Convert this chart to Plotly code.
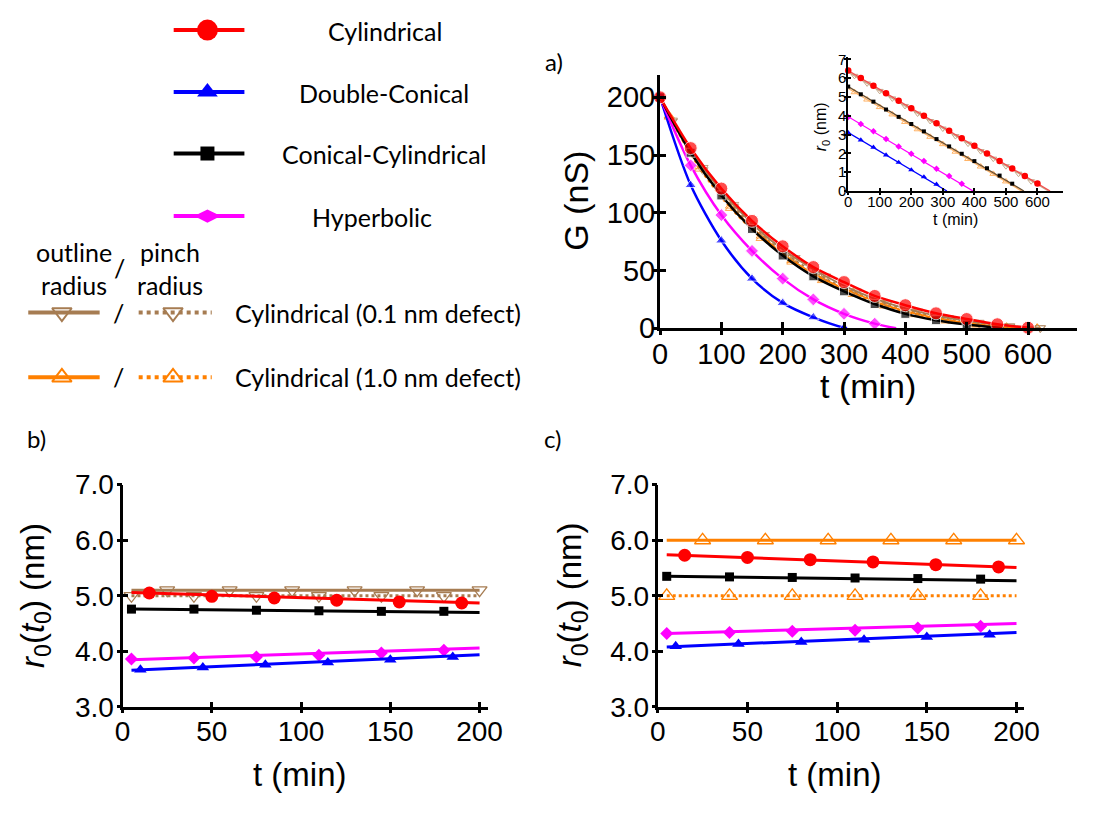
import plotly.graph_objects as go

# ---------------- DATA ----------------
# Panel a: conductance G (nS) vs time (min)
ta_cyl = [0, 50, 100, 150, 200, 250, 300, 350, 400, 450, 500, 550, 600]
G_cyl = [200, 156, 121, 93, 71, 53, 40, 28, 20, 13, 8, 3.5, 0.5]
ta_cc = [0, 50, 100, 150, 200, 250, 300, 350, 400, 450, 500]
G_cc = [200, 152, 115, 86, 63, 45, 32, 21, 12.5, 7, 3.2]
ta_cc_end = 560
ta_hyp = [0, 50, 100, 150, 200, 250, 300, 350]
G_hyp = [200, 141, 98, 67, 43, 25, 12.5, 4]
ta_hyp_end = 385
ta_dc = [0, 50, 100, 150, 200, 250, 300]
G_dc = [200, 124, 76, 43, 22, 9.5, 0.5]
ta_dc_end = 305
ta_d01 = [20, 70, 120, 170, 220, 270, 320, 370, 420, 470, 520, 570, 620]
G_d01_outline = [180, 139, 107, 81, 61, 45, 32, 22, 14.5, 9, 5, 2, 0.3]
G_d01_pinch = [179, 137, 105, 79, 59, 43, 30.5, 21, 13.5, 8, 4, 1.5, 0.2]
ta_d10 = [15, 65, 115, 165, 215, 265, 315, 365, 415, 465, 515, 565, 615]
G_d10_outline = [184, 140, 106, 80, 59, 43, 31, 20.5, 13, 7.5, 3.5, 1, 0]
G_d10_pinch = [183, 138, 104, 78, 57.5, 41.5, 29.5, 19.5, 12, 6.5, 3, 0.7, 0]

# Inset: r0 (nm) vs time (min)
ti_cyl = [0, 40, 80, 120, 160, 200, 240, 280, 320, 360, 400, 440, 480, 520, 560, 600]
ri_cyl = [6.4, 6.0, 5.6, 5.2, 4.8, 4.4, 4.0, 3.6, 3.2, 2.8, 2.4, 2.0, 1.6, 1.2, 0.8, 0.4]
ti_cyl_fit, ri_cyl_fit = [0, 640], [6.4, 0]
ti_cc = [0, 40, 80, 120, 160, 200, 240, 280, 320, 360, 400, 440, 480, 520]
ri_cc = [5.55, 5.14, 4.75, 4.33, 3.94, 3.56, 3.17, 2.76, 2.37, 1.98, 1.59, 1.21, 0.82, 0.39]
ti_cc_fit, ri_cc_fit = [0, 557], [5.55, 0]
ti_hyp = [0, 40, 80, 120, 160, 200, 240, 280, 320, 360]
ri_hyp = [3.93, 3.56, 3.17, 2.76, 2.37, 1.98, 1.59, 1.19, 0.80, 0.39]
ti_hyp_fit, ri_hyp_fit = [0, 396], [3.95, 0]
ti_dc = [0, 40, 80, 120, 160, 200, 240, 280]
ri_dc = [3.1, 2.71, 2.32, 1.91, 1.52, 1.12, 0.75, 0.36]
ti_dc_fit, ri_dc_fit = [0, 313], [3.1, 0]
ti_d01 = [20, 60, 100, 140, 180, 220, 260, 300, 340, 380, 420, 460, 500, 540, 580]
ri_d01 = [6.12, 5.72, 5.32, 4.92, 4.52, 4.12, 3.72, 3.32, 2.92, 2.52, 2.12, 1.72, 1.32, 0.92, 0.52]
ti_d01_fit, ri_d01_fit = [0, 635], [6.32, 0]
ti_d10 = [20, 60, 100, 140, 180, 220, 260, 300, 340, 380, 420, 460, 500]
ri_d10 = [5.25, 4.86, 4.46, 4.07, 3.67, 3.28, 2.88, 2.49, 2.09, 1.70, 1.30, 0.91, 0.51]
ti_d10_fit, ri_d10_fit = [0, 550], [5.45, 0]

# Panel b: r0(t0) (nm) vs t (min)
tb_cyl = [15, 50, 85, 120, 155, 190]
rb_cyl = [5.05, 4.99, 4.96, 4.92, 4.89, 4.87]
rb_cyl_fit = [5.06, 4.87]
tb_cc = [5, 40, 75, 110, 145, 180]
rb_cc = [4.76, 4.76, 4.74, 4.73, 4.72, 4.72]
rb_cc_fit = [4.76, 4.70]
tb_hyp = [5, 40, 75, 110, 145, 180]
rb_hyp = [3.86, 3.88, 3.90, 3.93, 3.97, 4.02]
rb_hyp_fit = [3.85, 4.06]
tb_dc = [10, 45, 80, 115, 150, 185]
rb_dc = [3.67, 3.71, 3.76, 3.80, 3.85, 3.90]
rb_dc_fit = [3.66, 3.94]
tb_d01_outline = [25, 60, 95, 130, 165, 200]
rb_d01_outline = [5.1, 5.1, 5.1, 5.1, 5.1, 5.1]
rb_d01_outline_fit = [5.1, 5.1]
tb_d01_pinch = [5, 40, 75, 110, 145, 180]
rb_d01_pinch = [5.0, 5.0, 5.0, 5.0, 5.0, 5.0]
rb_d01_pinch_fit = [5.0, 5.0]
tb_fit = [5, 200]

# Panel c: r0(t0) (nm) vs t (min)
tc_cyl = [15, 50, 85, 120, 155, 190]
rc_cyl = [5.73, 5.69, 5.65, 5.61, 5.56, 5.52]
rc_cyl_fit = [5.74, 5.51]
tc_cc = [5, 40, 75, 110, 145, 180]
rc_cc = [5.35, 5.34, 5.33, 5.32, 5.31, 5.30]
rc_cc_fit = [5.35, 5.27]
tc_hyp = [5, 40, 75, 110, 145, 180]
rc_hyp = [4.32, 4.34, 4.36, 4.38, 4.42, 4.45]
rc_hyp_fit = [4.32, 4.50]
tc_dc = [10, 45, 80, 115, 150, 185]
rc_dc = [4.09, 4.13, 4.17, 4.21, 4.26, 4.30]
rc_dc_fit = [4.08, 4.34]
tc_d10_outline = [25, 60, 95, 130, 165, 200]
rc_d10_outline = [6.0, 6.0, 6.0, 6.0, 6.0, 6.0]
rc_d10_outline_fit = [6.0, 6.0]
tc_d10_pinch = [5, 40, 75, 110, 145, 180]
rc_d10_pinch = [5.0, 5.0, 5.0, 5.0, 5.0, 5.0]
rc_d10_pinch_fit = [5.0, 5.0]
tc_fit = [5, 200]

# Tick labels
ticks_a_x = [0, 100, 200, 300, 400, 500, 600]
ticks_a_y = [0, 50, 100, 150, 200]
ticks_i_x = [0, 100, 200, 300, 400, 500, 600]
ticks_i_y = [0, 1, 2, 3, 4, 5, 6, 7]
ticks_bc_x = [0, 50, 100, 150, 200]
ticks_bc_y = [3.0, 4.0, 5.0, 6.0, 7.0]

# Legend entries
main_names = ["Cylindrical", "Double-Conical", "Conical-Cylindrical", "Hyperbolic"]
defect_names = ["Cylindrical (0.1 nm defect)", "Cylindrical (1.0 nm defect)"]

# ---------------- STYLE ----------------
W, H = 1096, 813
RED, BLUE, BLACK, MAG = "#ff0000", "#0000ff", "#000000", "#ff00ff"
BROWN, ORANGE = "#a67c52", "#ff8000"
BROWN_L, ORANGE_L = "#c9a98a", "#ffb366"
TICKF = "Liberation Sans, Arial, sans-serif"
TEXTF = "Lato, Liberation Sans, sans-serif"


def pxx(x):
    return x / W


def pxy(y):
    return 1 - y / H


fig = go.Figure()


def add(x, y, ax, ay, **kw):
    kw.setdefault("showlegend", False)
    kw.setdefault("cliponaxis", False)
    kw.setdefault("hoverinfo", "skip")
    fig.add_trace(go.Scatter(x=x, y=y, xaxis=ax, yaxis=ay, **kw))


# ---- Panel a ----
def curve_a(t, g, t_end, color, symbol, size, width=2.5):
    tt = list(t) + ([t_end] if t_end is not None else [])
    gg = list(g) + ([0] if t_end is not None else [])
    sizes = [size] * len(t) + ([0] if t_end is not None else [])
    add(tt, gg, "x", "y", mode="lines+markers",
        line=dict(color=color, width=width, shape="spline", smoothing=0.8),
        marker=dict(symbol=symbol, size=sizes, color=color))


def defect_a(t, g, color, symbol, dash):
    tt = [0] + list(t)
    gg = [200] + list(g)
    sizes = [0] + [9] * len(t)
    add(tt, gg, "x", "y", mode="lines+markers",
        line=dict(color=color, width=1.8, dash=dash, shape="spline", smoothing=0.8),
        marker=dict(symbol=symbol, size=sizes, color=color, line=dict(color=color, width=1)))


defect_a(ta_d10, G_d10_pinch, ORANGE, "triangle-up-open", "dot")
defect_a(ta_d01, G_d01_pinch, BROWN, "triangle-down-open", "dot")
defect_a(ta_d10, G_d10_outline, ORANGE, "triangle-up-open", "solid")
defect_a(ta_d01, G_d01_outline, BROWN, "triangle-down-open", "solid")
curve_a(ta_dc, G_dc, ta_dc_end, BLUE, "triangle-up", 10)
curve_a(ta_hyp, G_hyp, ta_hyp_end, MAG, "diamond", 10)
curve_a(ta_cc, G_cc, ta_cc_end, BLACK, "square", 9)
curve_a(ta_cyl, G_cyl, None, RED, "circle", 13)


# ---- Inset ----
def inset(tf, rf, t, r, color, symbol, size, line_color=None, open_marker=False):
    add(tf, rf, "x2", "y2", mode="lines", line=dict(color=line_color or color, width=1.3))
    mk = dict(symbol=symbol, size=size, color=color)
    if open_marker:
        mk["line"] = dict(color=color, width=1)
    add(t, r, "x2", "y2", mode="markers", marker=mk)


inset(ti_d01_fit, ri_d01_fit, ti_d01, ri_d01, BROWN_L, "triangle-down-open", 6, open_marker=True)
inset(ti_d10_fit, ri_d10_fit, ti_d10, ri_d10, ORANGE_L, "triangle-up-open", 6, open_marker=True)
inset(ti_cyl_fit, ri_cyl_fit, ti_cyl, ri_cyl, RED, "circle", 6.5, line_color="#f05050")
inset(ti_cc_fit, ri_cc_fit, ti_cc, ri_cc, BLACK, "square", 4, line_color="#6b4e2e")
inset(ti_hyp_fit, ri_hyp_fit, ti_hyp, ri_hyp, MAG, "diamond", 5)
inset(ti_dc_fit, ri_dc_fit, ti_dc, ri_dc, BLUE, "triangle-up", 5.5)


# ---- Panels b and c ----
def flat(tf, rf, t, r, ax, ay, color, symbol, size, dash="solid", width=3, open_marker=False):
    add(tf, rf, ax, ay, mode="lines", line=dict(color=color, width=width, dash=dash))
    mk = dict(symbol=symbol, size=size, color=color)
    if open_marker:
        mk["line"] = dict(color=color, width=1.3)
    add(t, r, ax, ay, mode="markers", marker=mk)


flat(tb_fit, rb_d01_pinch_fit, tb_d01_pinch, rb_d01_pinch, "x3", "y3", BROWN,
     "triangle-down-open", 13, dash="dot", width=3, open_marker=True)
flat(tb_fit, rb_d01_outline_fit, tb_d01_outline, rb_d01_outline, "x3", "y3", BROWN,
     "triangle-down-open", 13, open_marker=True)
flat(tb_fit, rb_cyl_fit, tb_cyl, rb_cyl, "x3", "y3", RED, "circle", 13)
flat(tb_fit, rb_cc_fit, tb_cc, rb_cc, "x3", "y3", BLACK, "square", 9)
flat(tb_fit, rb_hyp_fit, tb_hyp, rb_hyp, "x3", "y3", MAG, "diamond", 10)
flat(tb_fit, rb_dc_fit, tb_dc, rb_dc, "x3", "y3", BLUE, "triangle-up", 11)

flat(tc_fit, rc_d10_outline_fit, tc_d10_outline, rc_d10_outline, "x4", "y4", ORANGE,
     "triangle-up-open", 14, open_marker=True)
flat(tc_fit, rc_d10_pinch_fit, tc_d10_pinch, rc_d10_pinch, "x4", "y4", ORANGE,
     "triangle-up-open", 14, dash="dot", width=3, open_marker=True)
flat(tc_fit, rc_cyl_fit, tc_cyl, rc_cyl, "x4", "y4", RED, "circle", 13)
flat(tc_fit, rc_cc_fit, tc_cc, rc_cc, "x4", "y4", BLACK, "square", 9)
flat(tc_fit, rc_hyp_fit, tc_hyp, rc_hyp, "x4", "y4", MAG, "diamond", 10)
flat(tc_fit, rc_dc_fit, tc_dc, rc_dc, "x4", "y4", BLUE, "triangle-up", 11)

# ---- Legend (drawn on a hidden pixel canvas x5/y5) ----
leg_main_y = [15.7, 80, 144, 209]
leg_main_text_x = [385.7, 384, 384.5, 371.7]
leg_main_style = [(RED, "circle", 21), (BLUE, "triangle-up", 18),
                  (BLACK, "square", 14), (MAG, "diamond-wide", 19)]
for yv, (c, s, sz) in zip(leg_main_y, leg_main_style):
    add([169.4, 241.7], [yv, yv], "x5", "y5", mode="lines", line=dict(color=c, width=4))
    add([203.9], [yv], "x5", "y5", mode="markers", marker=dict(symbol=s, size=sz, color=c))

leg_def_y = [309.3, 376.7]
leg_def_style = [(BROWN, "triangle-down-open"), (ORANGE, "triangle-up-open")]
for yv, (c, s) in zip(leg_def_y, leg_def_style):
    add([20.7, 93.7], [yv, yv], "x5", "y5", mode="lines", line=dict(color=c, width=4))
    add([133.6, 208.3], [yv, yv], "x5", "y5", mode="lines", line=dict(color=c, width=4, dash="dot"))
    add([55.1, 168.7], [yv, yv], "x5", "y5", mode="markers",
        marker=dict(symbol=s, size=17, color=c, line=dict(color=c, width=2)))

# ---------------- LAYOUT ----------------
AX_A = dict(x0=666.6, x1=1093, y0=325.7, y1=62.7)
AX_I = dict(x0=859, x1=1078.3, y0=183, y1=43.3)
AX_B = dict(x0=117.1, x1=490.7, y0=719.3, y1=488.3)
AX_C = dict(x0=664.3, x1=1038.6, y0=719.3, y1=488.3)


def dom_x(a):
    return [pxx(a["x0"]), pxx(a["x1"])]


def dom_y(a):
    return [pxy(a["y0"]), pxy(a["y1"])]


def axis(domain, rng, tickvals, anchor, fs, lw, ticktext=None, standoff=0):
    d = dict(domain=domain, range=rng, anchor=anchor, showline=True, linecolor="black",
             linewidth=lw, ticks="", tickvals=tickvals, showgrid=False, zeroline=False,
             fixedrange=True, tickfont=dict(family=TICKF, size=fs, color="black"),
             ticklabelstandoff=standoff)
    if ticktext is not None:
        d["ticktext"] = ticktext
    return d


def overlay(base, rng, tickvals, anchor, tl, tw, side, where):
    return dict(overlaying=base, range=rng, anchor=anchor, side=side, showline=False,
                ticks=where, ticklen=tl, tickwidth=tw, tickcolor="black",
                tickvals=tickvals, showticklabels=False, showgrid=False,
                zeroline=False, fixedrange=True)


RA_X, RA_Y = [0, 680], [0, 219]
RI_X, RI_Y = [0, 680], [0, 7.14]
RB_X, RB_Y = [0, 204.7], [3, 7]
RC_X, RC_Y = [0, 204.1], [3, 7]
bc_text = ["%.1f" % v for v in ticks_bc_y]

layout = dict(
    width=W, height=H, margin=dict(l=0, r=0, t=0, b=0),
    paper_bgcolor="white", plot_bgcolor="rgba(0,0,0,0)", showlegend=False,
    xaxis=axis(dom_x(AX_A), RA_X, ticks_a_x, "y", 29, 3, standoff=-2),
    yaxis=axis(dom_y(AX_A), RA_Y, ticks_a_y, "x", 29, 3, standoff=-4),
    xaxis2=axis(dom_x(AX_I), RI_X, ticks_i_x, "y2", 15, 1.6, standoff=-4),
    yaxis2=axis(dom_y(AX_I), RI_Y, ticks_i_y, "x2", 15, 1.6, standoff=-3),
    xaxis3=axis(dom_x(AX_B), RB_X, ticks_bc_x, "y3", 28, 3, standoff=-2),
    yaxis3=axis(dom_y(AX_B), RB_Y, ticks_bc_y, "x3", 28, 3, ticktext=bc_text, standoff=0),
    xaxis4=axis(dom_x(AX_C), RC_X, ticks_bc_x, "y4", 28, 3, standoff=-2),
    yaxis4=axis(dom_y(AX_C), RC_Y, ticks_bc_y, "x4", 28, 3, ticktext=bc_text, standoff=0),
    xaxis5=dict(domain=[0, 1], range=[0, W], visible=False, fixedrange=True, anchor="y5"),
    yaxis5=dict(domain=[0, 1], range=[H, 0], visible=False, fixedrange=True, anchor="x5"),
)
# crossing tick marks: one overlay axis with inside ticks, one with outside ticks
overlay_specs = [("x", "y", RA_X, ticks_a_x, 6, 3, "bottom", True),
                 ("y", "x", RA_Y, ticks_a_y, 6, 3, "left", False),
                 ("x2", "y2", RI_X, ticks_i_x, 3, 1.5, "bottom", True),
                 ("y2", "x2", RI_Y, ticks_i_y, 3, 1.5, "left", False),
                 ("x3", "y3", RB_X, ticks_bc_x, 5, 3, "bottom", True),
                 ("y3", "x3", RB_Y, ticks_bc_y, 5, 3, "left", False),
                 ("x4", "y4", RC_X, ticks_bc_x, 5, 3, "bottom", True),
                 ("y4", "x4", RC_Y, ticks_bc_y, 5, 3, "left", False)]
n = 6
dummy = []
for base, anch, rng, tv, tl, tw, side, is_x in overlay_specs:
    for where in ("inside", "outside"):
        name = ("xaxis%d" if is_x else "yaxis%d") % n
        layout[name] = overlay(base, rng, tv, anch, tl, tw, side, where)
        ref = ("x%d" if is_x else "y%d") % n
        dummy.append((ref, anch) if is_x else (anch, ref))
        n += 1
fig.update_layout(**layout)

for ax, ay in dummy:
    add([None], [None], ax, ay, mode="markers")

# ---------------- TEXT ----------------
ann = []


def text(x, y, s, size, family=TICKF, angle=0, xanchor="center"):
    ann.append(dict(x=pxx(x), y=pxy(y), xref="paper", yref="paper", text=s,
                    showarrow=False, xanchor=xanchor, yanchor="middle", textangle=angle,
                    font=dict(family=family, size=size, color="black")))


# axis titles
text(879.7, 386, "t (min)", 34)
text(580.8, 193, "G (nS)", 34, angle=-90)
text(969, 213, "t (min)", 16)
text(832, 116, "<i>r</i><sub>0</sub> (nm)", 16, angle=-90)
text(299, 790, "t (min)", 33)
text(27.5, 603, "<i>r</i><sub>0</sub>(<i>t</i><sub>0</sub>) (nm)", 33, angle=-90)
text(846, 790, "t (min)", 33)
text(577, 603, "<i>r</i><sub>0</sub>(<i>t</i><sub>0</sub>) (nm)", 33, angle=-90)
# panel labels
text(558, 48, "a)", 24, family=TEXTF)
text(29, 440, "b)", 24, family=TEXTF)
text(557, 440, "c)", 24, family=TEXTF)
# legend texts
for yv, xv, name in zip(leg_main_y, leg_main_text_x, main_names):
    text(xv, yv + 1, name, 25, family=TEXTF)
for yv, name in zip(leg_def_y, defect_names):
    text(378, yv, name, 25, family=TEXTF)
    text(112.6, yv, "/", 25, family=TEXTF)
text(27, 263.5, "outline<br>radius", 25, family=TEXTF, xanchor="left")
text(113.6, 263, "/", 25, family=TEXTF)
text(130, 263.5, "pinch<br>radius", 25, family=TEXTF, xanchor="left")

fig.update_layout(annotations=ann)
fig.write_html("out.html")
